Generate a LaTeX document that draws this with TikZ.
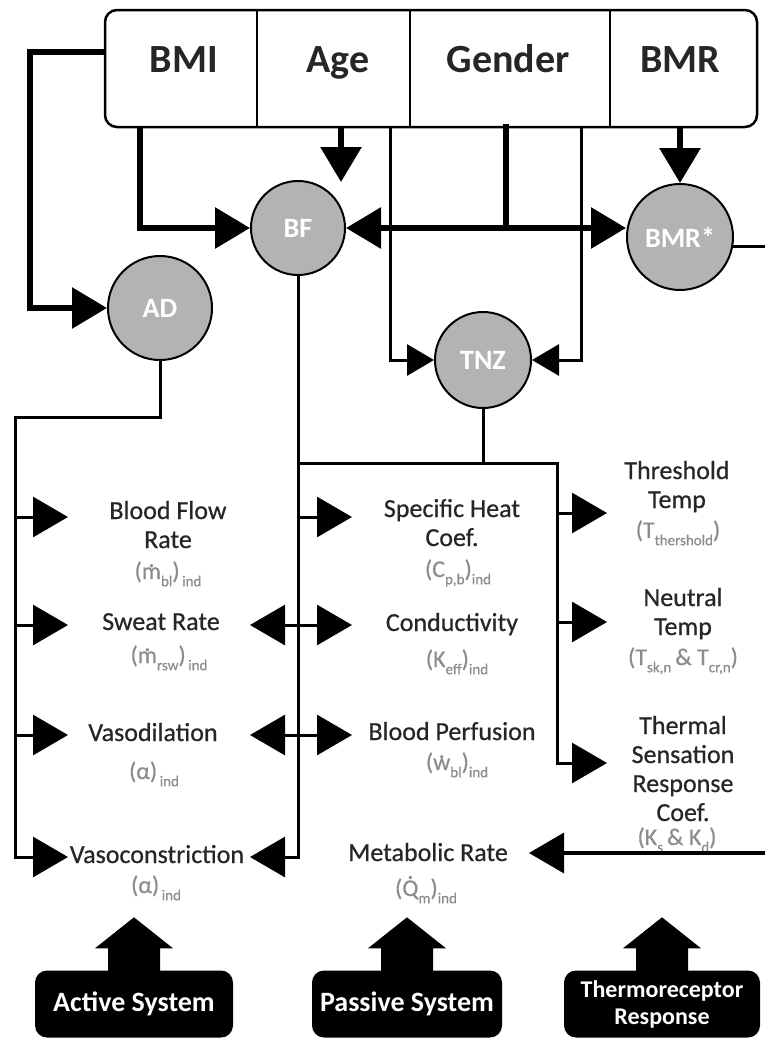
\documentclass[tikz,border=0pt]{standalone}
\usepackage{fontspec}
\setmainfont{Carlito}
\newfontfamily\medfont{Carlito}[FakeBold=0.6]
\usetikzlibrary{arrows.meta}

\definecolor{txtdark}{HTML}{262626}
\definecolor{txtgray}{HTML}{8C8C8C}
\definecolor{circfill}{HTML}{B3B3B3}

\newcommand\sbx[1]{\raisebox{-0.3em}{\fontsize{15}{15}\selectfont #1}}
\newcommand\ovdot[2]{\ooalign{#2\cr\hidewidth\raisebox{#1}{.}\hidewidth\cr}}

\tikzset{
   >={Triangle[length=35pt,width=40pt]},
   heavy/.style={line width=6pt},
   fine/.style={line width=3pt},
   midln/.style={line width=3.5pt},
   smalltip/.style={-{Triangle[length=27pt,width=31pt]}},
   circ/.style={circle, draw, line width=2pt, fill=circfill, text=white, inner sep=0pt,
      font=\fontsize{28}{30}\selectfont\bfseries},
   toplbl/.style={anchor=base, text=txtdark, font=\fontsize{40}{44}\selectfont\bfseries},
   lbl/.style={anchor=base, align=center, text=txtdark, font=\fontsize{26}{29}\selectfont\medfont},
   frm/.style={anchor=base, text=txtgray, font=\fontsize{24}{26}\selectfont\medfont},
   sysbox/.style={fill=black, rounded corners=12pt, minimum height=67pt, align=center,
      text=white, font=\fontsize{28}{30}\selectfont\bfseries}
}

\begin{document}
\begin{tikzpicture}[x=1pt,y=-1pt]
   \useasboundingbox (0,0) rectangle (764,1039);

   % input table
   \node[draw, line width=2.5pt, rounded corners=12pt, minimum width=652pt, minimum height=117pt] (tbl) at (431,68.5) {};
   \foreach \x in {257,410,610}
      \draw[line width=2pt] (\x,10) -- (\x,127);
   \node[toplbl] (bmi) at (184,72) {BMI};
   \node[toplbl] (age) at (338,72) {Age};
   \node[toplbl] (gen) at (508,72) {Gender};
   \node[toplbl] (bmr) at (680,72) {BMR};

   \coordinate (bmil) at (105,52);
   \coordinate (bmio) at (140,127);
   \coordinate (ageo) at (341,127);
   \coordinate (aget) at (341,182);
   \coordinate (tnzl) at (390,127);
   \coordinate (geno) at (506,127);
   \coordinate (tnzr) at (581,127);
   \coordinate (bmro) at (680,127);

   % derived values
   \node[circ, minimum size=104pt] (ad) at (160,308) {AD};
   \node[circ, minimum size=94pt] (bf) at (298,228) {BF};
   \node[circ, minimum size=106pt] (bmrs) at (680,237) {BMR*};
   \node[circ, minimum size=96pt] (tnz) at (483,360) {TNZ};

   \draw[heavy,->] (bmil) -| (30,308) -- (ad.west);
   \draw[heavy,->] (bmio) |- (bf.west);
   \draw[heavy,->] (ageo) -- (aget);
   \draw[heavy,line cap=rect] (geno) -- (geno |- bf.east);
   \draw[heavy,<->] (bf.east) -- (bf.east -| bmrs.west);
   \draw[heavy,->] (bmro) -- (bmrs.north);
   \draw[fine,smalltip] (tnzl) |- (tnz.west);
   \draw[fine,smalltip] (tnzr) |- (tnz.east);

   % active system
   \node[lbl] (bfr) at (168,548) {Blood Flow\\Rate};
   \node[frm] (bfrf) at (168,579) {(\ovdot{0.5em}{m}\sbx{bl})\sbx{\,ind}};
   \node[lbl] (swr) at (161,630) {Sweat Rate};
   \node[frm] (swrf) at (169,663) {(\ovdot{0.5em}{m}\sbx{rsw})\sbx{\,ind}};
   \node[lbl] (vdl) at (153,741) {Vasodilation};
   \node[frm] (vdlf) at (154,779) {(α)\sbx{\,ind}};
   \node[lbl] (vcn) at (157,863) {Vasoconstriction};
   \node[frm] (vcnf) at (156,893) {(α)\sbx{\,ind}};

   % passive system
   \node[lbl] (shc) at (452,546) {Specific Heat\\Coef.};
   \node[frm] (shcf) at (458,577) {(C\sbx{p,b})\sbx{ind}};
   \node[lbl] (cnd) at (452,631) {Conductivity};
   \node[frm] (cndf) at (457,667) {(K\sbx{eff})\sbx{ind}};
   \node[lbl] (bpf) at (452,740) {Blood Perfusion};
   \node[frm] (bpff) at (457,770) {(\ovdot{0.5em}{w}\sbx{bl})\sbx{ind}};
   \node[lbl] (mtr) at (428,861) {Metabolic Rate};
   \node[frm] (mtrf) at (426,896) {(\ovdot{0.72em}{Q}\sbx{m})\sbx{ind}};

   % thermoreceptor response
   \node[lbl] (ths) at (677,508) {Threshold\\Temp};
   \node[frm] (thsf) at (678,538) {(T\sbx{thershold})};
   \node[lbl] (ntr) at (683,635) {Neutral\\Temp};
   \node[frm] (ntrf) at (683,665) {(T\sbx{sk,n}\,\& T\sbx{cr,n})};
   \node[lbl] (tsr) at (683,821) {Thermal\\Sensation\\Response\\Coef.};
   \node[frm] (tsrf) at (677,845) {(K\sbx{s}\,\& K\sbx{d})};

   % arrow ends
   \coordinate (lb) at (15,417);
   \coordinate (bfri) at (68,517);
   \coordinate (swri) at (68,625);
   \coordinate (vdli) at (68,735);
   \coordinate (vcni) at (68,857);
   \coordinate (swro) at (250,625);
   \coordinate (vdlo) at (250,735);
   \coordinate (vcno) at (250,857);
   \coordinate (shci) at (352,517);
   \coordinate (cndi) at (352,625);
   \coordinate (bpfi) at (352,735);
   \coordinate (tb) at (557,463);
   \coordinate (thsi) at (607,513);
   \coordinate (ntri) at (607,622);
   \coordinate (tsri) at (607,763);
   \coordinate (mtri) at (529,853);
   \coordinate (rgt) at (800,0);

   \draw[fine,->] (ad.south) |- (lb) |- (vcni);
   \foreach \c in {bfri,swri,vdli}
      \draw[fine,->] (lb |- \c) -- (\c);

   \draw[fine,->] (bf.south) |- (vcno);
   \draw[fine,->] (bf.south |- shci) -- (shci);
   \draw[fine,<->] (swro) -- (cndi);
   \draw[fine,<->] (vdlo) -- (bpfi);

   \draw[fine] (tnz.south) -- (tnz.south |- tb);
   \draw[fine,->] (bf.south |- tb) -- (tb) |- (tsri);
   \draw[fine,->] (tb |- thsi) -- (thsi);
   \draw[fine,->] (tb |- ntri) -- (ntri);

   \draw[midln,->] (bmrs.-10) -- (bmrs.-10 -| rgt) |- (mtri);

   % systems
   \node[sysbox, minimum width=198pt] (act) at (134,1004) {Active System};
   \node[sysbox, minimum width=190pt] (pas) at (407,1004) {Passive System};
   \node[sysbox, minimum width=196pt, font=\fontsize{24}{27}\selectfont\bfseries] (trr) at (662,1004) {Thermoreceptor\\Response};
   \foreach \b in {act,pas,trr}
      \fill (\b.north) ++(-26,1) -- ++(0,-23) -- ++(-13,0) -- ++(39,-31) -- ++(39,31) -- ++(-13,0) -- ++(0,23) -- cycle;
\end{tikzpicture}
\end{document}
